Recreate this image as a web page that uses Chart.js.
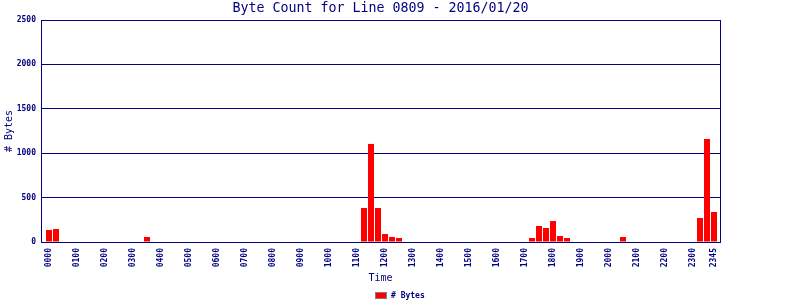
<!DOCTYPE html>
<html>
<head>
<meta charset="utf-8">
<title>Byte Count for Line 0809 - 2016/01/20</title>
<script src="https://cdn.jsdelivr.net/npm/chart.js@4.4.1/dist/chart.umd.min.js"></script>
<style>
  html, body { margin: 0; padding: 0; background: #fff; }
</style>
</head>
<body>
<canvas id="byteChart" width="800" height="300"></canvas>
<script>
const chartTitle = 'Byte Count for Line 0809 - 2016/01/20';
const seriesLabel = '# Bytes';

// one slot every 15 minutes
const times = [
    '0000','0015','0030','0045','0100','0115','0130','0145',
    '0200','0215','0230','0245','0300','0315','0330','0345',
    '0400','0415','0430','0445','0500','0515','0530','0545',
    '0600','0615','0630','0645','0700','0715','0730','0745',
    '0800','0815','0830','0845','0900','0915','0930','0945',
    '1000','1015','1030','1045','1100','1115','1130','1145',
    '1200','1215','1230','1245','1300','1315','1330','1345',
    '1400','1415','1430','1445','1500','1515','1530','1545',
    '1600','1615','1630','1645','1700','1715','1730','1745',
    '1800','1815','1830','1845','1900','1915','1930','1945',
    '2000','2015','2030','2045','2100','2115','2130','2145',
    '2200','2215','2230','2245','2300','2315','2330','2345'
];

const bytes = [
    135, 146, 0, 0, 0, 0, 0, 0,
    0, 0, 0, 0, 0, 0, 56, 0,
    0, 0, 0, 0, 0, 0, 0, 0,
    0, 0, 0, 0, 0, 0, 0, 0,
    0, 0, 0, 0, 0, 0, 0, 0,
    0, 0, 0, 0, 0, 383, 1104, 383,
    90, 56, 45, 0, 0, 0, 0, 0,
    0, 0, 0, 0, 0, 0, 0, 0,
    0, 0, 0, 0, 0, 45, 180, 158,
    236, 68, 45, 0, 0, 0, 0, 0,
    0, 0, 56, 0, 0, 0, 0, 0,
    0, 0, 0, 0, 0, 270, 1160, 338
];

const tickLabels = [
    '0000','0100','0200','0300','0400','0500','0600','0700',
    '0800','0900','1000','1100','1200','1300','1400','1500',
    '1600','1700','1800','1900','2000','2100','2200','2300','2345'
];

const yTicks = [0, 500, 1000, 1500, 2000, 2500];

const navy = '#000080';
const mono = '"DejaVu Sans Mono", "Liberation Mono", monospace';

// top and right edges of the plot frame
const framePlugin = {
    id: 'frame',
    beforeDatasetsDraw(chart) {
        let ctx = chart.ctx;
        let a = chart.chartArea;
        ctx.save();
        ctx.strokeStyle = navy;
        ctx.lineWidth = 1;
        ctx.strokeRect(a.left + 0.5, a.top + 0.5, a.right - a.left, a.bottom - a.top);
        ctx.restore();
    }
};

// small legend sitting at the very bottom of the canvas
const bottomLegend = {
    id: 'bottomLegend',
    afterDraw(chart) {
        let ctx = chart.ctx;
        let ds = chart.data.datasets[0];
        ctx.save();
        ctx.font = 'bold 8px ' + mono;
        let tw = ctx.measureText(ds.label).width;
        let boxW = 12, boxH = 7, gap = 4;
        let x0 = Math.round(chart.width / 2 - (boxW + gap + tw) / 2);
        let yMid = chart.height - 4.5;
        ctx.fillStyle = ds.backgroundColor;
        ctx.fillRect(x0, yMid - boxH / 2, boxW, boxH);
        ctx.strokeStyle = '#808080';
        ctx.lineWidth = 1;
        ctx.strokeRect(x0 + 0.5, yMid - boxH / 2 + 0.5, boxW - 1, boxH - 1);
        ctx.fillStyle = navy;
        ctx.textBaseline = 'middle';
        ctx.textAlign = 'left';
        ctx.fillText(ds.label, x0 + boxW + gap, yMid);
        ctx.restore();
    }
};

let ctx = document.getElementById('byteChart').getContext('2d');

let byteChart = new Chart(ctx, {
    type: 'bar',
    data: {
        datasets: [{
            label: seriesLabel,
            data: bytes.map((v, i) => ({x: i, y: v})),
            backgroundColor: '#ff0000',
            borderWidth: 0,
            barPercentage: 6 / 7,
            categoryPercentage: 1
        }]
    },
    options: {
        responsive: false,
        animation: false,
        layout: {
            padding: {left: 0, right: 80, top: 0, bottom: 0}
        },
        plugins: {
            legend: {display: false},
            tooltip: {enabled: false},
            title: {
                display: true,
                text: chartTitle,
                fullSize: false,
                color: navy,
                font: {family: mono, size: 13.3, weight: 'normal', lineHeight: '14px'},
                padding: {top: 2, bottom: 4}
            }
        },
        scales: {
            x: {
                type: 'linear',
                offset: false,
                min: -8 / 7,
                max: 95 + 6 / 7,
                afterBuildTicks: function(scale) {
                    scale.ticks = tickLabels.map(t => ({value: times.indexOf(t)}));
                },
                ticks: {
                    autoSkip: false,
                    minRotation: 90,
                    maxRotation: 90,
                    padding: 6,
                    color: navy,
                    font: {family: mono, size: 8, weight: 'bold'},
                    callback: function(value) {
                        return times[value];
                    }
                },
                grid: {display: false, drawTicks: false},
                border: {display: true, color: navy, width: 1},
                title: {
                    display: true,
                    text: 'Time',
                    color: navy,
                    font: {family: mono, size: 10, lineHeight: '12px'},
                    padding: {top: 0, bottom: 16}
                },
                afterFit: function(scale) {
                    scale.height = 58;
                }
            },
            y: {
                min: 0,
                max: 2500,
                afterBuildTicks: function(scale) {
                    scale.ticks = yTicks.map(v => ({value: v}));
                },
                ticks: {
                    padding: 5,
                    color: navy,
                    font: {family: mono, size: 8, weight: 'bold'},
                    callback: function(value) {
                        return String(value);
                    }
                },
                grid: {color: navy, lineWidth: 1, drawTicks: false},
                border: {display: true, color: navy, width: 1},
                title: {
                    display: true,
                    text: seriesLabel,
                    color: navy,
                    font: {family: mono, size: 10, lineHeight: '12px'},
                    padding: {top: 3, bottom: 0}
                },
                afterFit: function(scale) {
                    scale.width = 41;
                }
            }
        }
    },
    plugins: [framePlugin, bottomLegend]
});
</script>
</body>
</html>
